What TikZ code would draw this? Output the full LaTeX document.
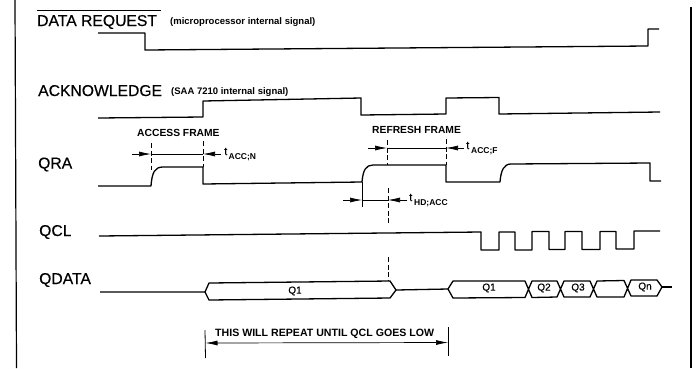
\documentclass[tikz,border=0pt]{standalone}
\usepackage{fontspec}
\setmainfont{Liberation Sans}
\newfontface\headface[FakeBold=0.35]{Liberation Sans}
\usetikzlibrary{arrows.meta}
\tikzset{
  sig/.style={line width=1.3pt,line join=round},
  frame/.style={line width=1.2pt},
  guide/.style={line width=.8pt},
  dashln/.style={line width=.8pt,dash pattern=on 5pt off 2.5pt},
  dimline/.style={line width=.7pt},
  dim/.style={line width=.7pt,-{Latex[length=12pt,width=5pt]}},
  head/.style={inner sep=0,anchor=base west,font=\fontsize{15.7}{16}\headface},
  sub/.style={inner sep=0,anchor=base west,font=\fontsize{9.5}{10}\selectfont\bfseries},
  lab/.style={inner sep=0,anchor=base west,font=\fontsize{10.3}{11}\selectfont\bfseries},
  rep/.style={inner sep=0,anchor=base west,font=\fontsize{10.6}{11}\selectfont\bfseries},
  val/.style={inner sep=0,font=\fontsize{10}{11}\headface},
  tee/.style={inner sep=0,anchor=base west,font=\fontsize{11}{12}\headface},
  tsub/.style={inner sep=0,anchor=base west,font=\fontsize{8.5}{9}\selectfont\bfseries},
}
\begin{document}
\begin{tikzpicture}[x=1pt,y=-1pt]
\useasboundingbox (0,0) rectangle (696,368);
\fill[white] (0,0) rectangle (696,368);
% frame
\draw[frame] (15,0) -- (16.5,368);
\draw[frame] (691,7) -- (691,368);
% labels
\node[head] (drq) at (37,26) {DATA REQUEST};
\draw[line width=.9pt] (37,10.5) -- (161,10.5);
\node[sub] (drqs) at (170,24) {(microprocessor internal signal)};
\node[head] (ack) at (38,96) {ACKNOWLEDGE};
\node[sub] (acks) at (171,94) {(SAA 7210 internal signal)};
\node[head] (qra) at (38,168.5) {QRA};
\node[head] (qcl) at (39,236) {QCL};
\node[head] (qdata) at (39,284) {QDATA};
% DATA REQUEST
\draw[sig] (98,33) -- (145,33) -- (145,50) -- (648,46) -- (648,29) -- (659,29);
% ACK
\draw[sig] (98,118) -- (203,117) -- (203,101) -- (361,98) -- (361,115) -- (446,114) -- (446,98) -- (499,97.5) -- (499,114) -- (660,112);
% QRA
\draw[sig] (98,186) -- (151,186) .. controls (152,172) and (155,167) .. (163,167) -- (203,167) -- (203,184) -- (362,182)
  .. controls (363,170) and (366,165) .. (373,165) -- (446,165) -- (446,182) -- (500,182)
  .. controls (501,170) and (504,164) .. (511,164) -- (650,163) -- (650,181) -- (661,181);
% QCL
\draw[sig] (99,236) -- (481,232) -- (481,250) -- (499,250) -- (499,232) -- (515,232) -- (515,250) -- (532,250) -- (532,231.5)
  -- (549,231.5) -- (549,249.5) -- (565,249.5) -- (565,231.5) -- (582,231.5) -- (582,249.5) -- (600,249.5) -- (600,231.5)
  -- (616,231.5) -- (616,249) -- (634,249) -- (634,231) -- (660,231);
% QDATA
\draw[sig] (100,292) -- (205,292) -- (209,283) -- (390,281) -- (396,290) -- (390,298) -- (209,300) -- (205,292);
\draw[sig] (396,290) -- (448,289) -- (453,281) -- (525,281) -- (532,297.5) -- (557,297) -- (564,281) -- (590,281) -- (597,297) -- (624,297) -- (631,280) -- (657,280) -- (662,287) -- (657,296) -- (631,296) -- (624,280.5) -- (597,281) -- (590,297) -- (564,297) -- (557,281) -- (532,281) -- (525,297.5) -- (453,298) -- (448,289);
\draw[sig] (662,287) -- (672,287);
\node[val] (d1) at (295,291) {Q1};
\node[val] (d2) at (489,288) {Q1};
\node[val] (d3) at (544,288) {Q2};
\node[val] (d4) at (578,288) {Q3};
\node[val] (d5) at (645,287) {Qn};
% access frame
\node[lab] (af) at (137,136.5) {ACCESS FRAME};
\draw[dashln] (151,143) -- (151,170);
\draw[dashln] (203,141) -- (203,167);
\coordinate (a1) at (132,154);
\coordinate (a2) at (151,154);
\coordinate (a3) at (221,154);
\coordinate (a4) at (203,154);
\draw[dim] (a1) -- (a2);
\draw[dimline] (a2) -- (a4);
\draw[dim] (a3) -- (a4);
\node[tee] (t1) at (224,155) {t};
\node[tsub] (t1s) at (228.5,159) {ACC;N};
% refresh frame
\node[lab] (rf) at (372,133.5) {REFRESH FRAME};
\draw[dashln] (387,140) -- (387,165);
\draw[dashln] (446,139) -- (446,165);
\coordinate (b1) at (368,148);
\coordinate (b2) at (387,148);
\coordinate (b3) at (464,148);
\coordinate (b4) at (446,148);
\draw[dim] (b1) -- (b2);
\draw[dimline] (b2) -- (b4);
\draw[dim] (b3) -- (b4);
\node[tee] (t2) at (466,149) {t};
\node[tsub] (t2s) at (471,153) {ACC;F};
% hold
\draw[guide] (362,182) -- (362,207);
\draw[dashln] (388,188) -- (388,225);
\coordinate (c1) at (343,200);
\coordinate (c2) at (362,200);
\coordinate (c3) at (407,200);
\coordinate (c4) at (388,200);
\draw[dim] (c1) -- (c2);
\draw[dimline] (c2) -- (c4);
\draw[dim] (c3) -- (c4);
\node[tee] (t3) at (409,201) {t};
\node[tsub] (t3s) at (414,205) {HD;ACC};
\draw[dashln] (388,257) -- (388,281);
% repeat
\node[rep] (rp) at (215,336) {THIS WILL REPEAT UNTIL QCL GOES LOW};
\coordinate (e1t) at (205,330);
\coordinate (e1b) at (205.5,358);
\coordinate (e2t) at (448,327);
\coordinate (e2b) at (448,356);
\draw[guide] (e1t) -- (e1b);
\draw[guide] (e2t) -- (e2b);
\coordinate (e1) at (205.5,343);
\coordinate (e2) at (448,342.5);
\draw[line width=.7pt,{Latex[length=12pt,width=5pt]}-{Latex[length=12pt,width=5pt]}] (e1) -- (e2);
\end{tikzpicture}
\end{document}
